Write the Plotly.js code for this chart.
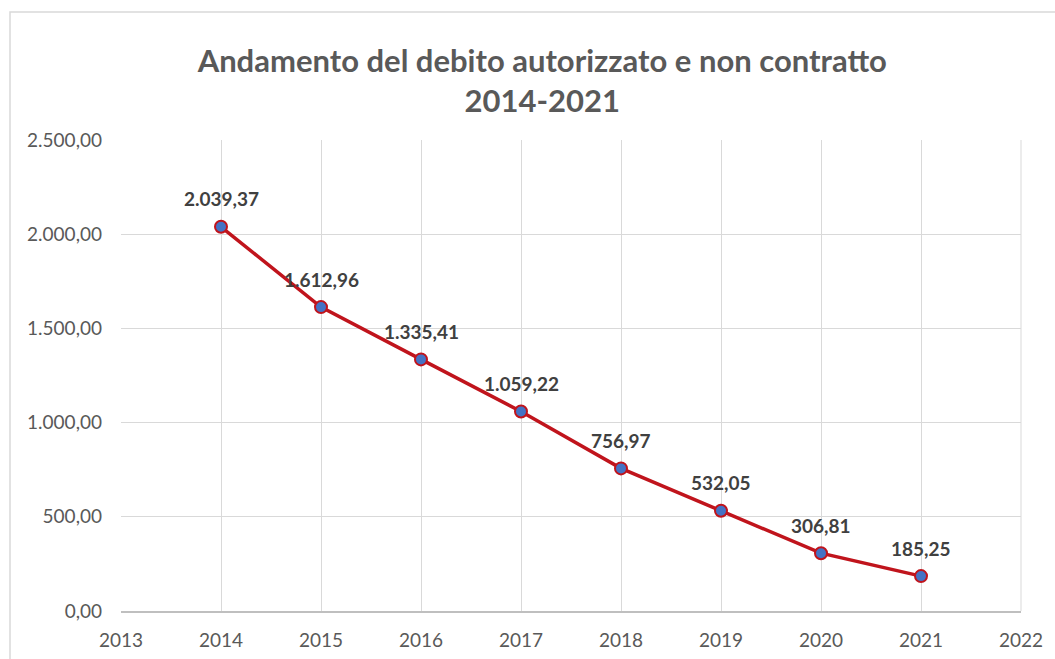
<!DOCTYPE html>
<html>
<head>
<meta charset="utf-8">
<script src="https://cdn.plot.ly/plotly-3.0.1.min.js"></script>
<style>html,body{margin:0;padding:0;background:#fff;}#chart{width:1055px;height:659px;}</style>
</head>
<body>
<div id="chart"></div>
<script>
const years = [2014, 2015, 2016, 2017, 2018, 2019, 2020, 2021];
const debito = [2039.37, 1612.96, 1335.41, 1059.22, 756.97, 532.05, 306.81, 185.25];
const yTicks = [0, 500, 1000, 1500, 2000, 2500];
const xTicks = [2013, 2014, 2015, 2016, 2017, 2018, 2019, 2020, 2021, 2022];

const fontFam = 'Lato, "Open Sans", sans-serif';

const fmt = v => v.toLocaleString('it-IT', {minimumFractionDigits: 2, maximumFractionDigits: 2, useGrouping: 'always'});

const trace = {
  x: years,
  y: debito,
  type: 'scatter',
  mode: 'lines+markers',
  line: {color: '#C0141C', width: 3.5},
  marker: {size: 12, color: '#4472C4', line: {color: '#C0141C', width: 2}},
  cliponaxis: false,
  hoverinfo: 'x+y'
};

const labels = years.map((yr, i) => ({
  x: yr, y: debito[i], xref: 'x', yref: 'y',
  text: '<b>' + fmt(debito[i]) + '</b>',
  showarrow: false, yshift: 28, xanchor: 'center', yanchor: 'middle',
  font: {family: fontFam, size: 19, color: '#404040'}
}));

const layout = {
  width: 1055,
  height: 659,
  margin: {l: 121, r: 34, t: 140, b: 48},
  paper_bgcolor: '#ffffff',
  plot_bgcolor: '#ffffff',
  separators: ',.',
  showlegend: false,
  title: {
    text: '<b>Andamento del debito autorizzato e non contratto<br>2014-2021</b>',
    font: {family: fontFam, size: 31, color: '#595959'},
    x: 0.514, xanchor: 'center',
    y: 0.891, yanchor: 'top'
  },
  annotations: labels,
  xaxis: {
    range: [2013, 2022],
    tickvals: xTicks,
    ticktext: xTicks.map(String),
    showgrid: true,
    gridcolor: '#d9d9d9',
    gridwidth: 1,
    zeroline: false,
    showline: true,
    linecolor: '#bfbfbf',
    linewidth: 1.5,
    ticks: '',
    ticklabelstandoff: 12,
    tickfont: {family: fontFam, size: 19, color: '#595959'},
    fixedrange: true
  },
  yaxis: {
    range: [0, 2500],
    tickvals: yTicks,
    tickformat: ',.2f',
    showgrid: true,
    gridcolor: '#d9d9d9',
    gridwidth: 1,
    zeroline: false,
    showline: false,
    ticks: '',
    ticklabelstandoff: 18,
    tickfont: {family: fontFam, size: 19, color: '#595959'},
    fixedrange: true
  },
  shapes: [
    {type: 'rect', xref: 'paper', yref: 'paper',
     x0: (10 - 121) / 900, x1: 1.2, y0: -0.3, y1: (611 - 12) / 471,
     line: {color: '#d9d9d9', width: 1.5}, fillcolor: 'rgba(0,0,0,0)', layer: 'below'},
    {type: 'line', xref: 'paper', yref: 'paper', x0: 1, x1: 1, y0: 0, y1: 1,
     line: {color: '#d9d9d9', width: 1}, layer: 'below'}
  ]
};

Plotly.newPlot('chart', [trace], layout, {displayModeBar: false, staticPlot: true});
</script>
</body>
</html>
